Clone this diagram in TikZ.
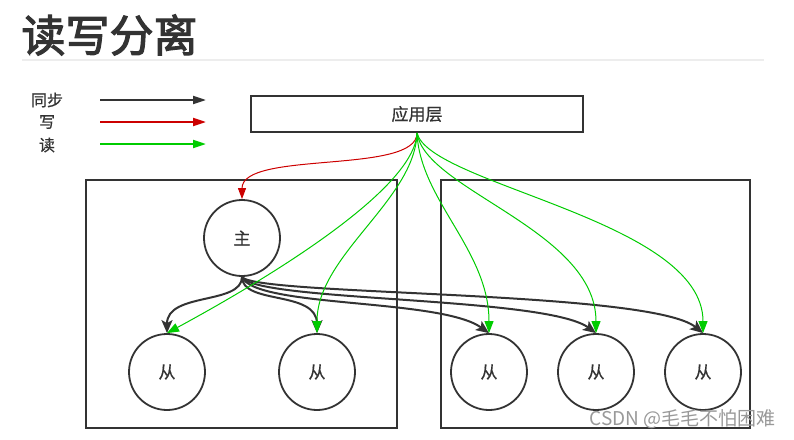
\documentclass[tikz,border=0pt]{standalone}
\usepackage{fontspec}
\setmainfont{Liberation Sans}
\newfontfamily\cjk[FakeBold=0.6]{Noto Sans CJK SC}
\newfontfamily\cjklight{Noto Sans CJK SC}
\newfontfamily\cjkbold[FakeBold=2.5]{Noto Sans CJK SC}
\usetikzlibrary{positioning,arrows.meta}
\definecolor{ink}{HTML}{333333}
\definecolor{wred}{HTML}{CC0000}
\definecolor{rgreen}{HTML}{00CC00}
\tikzstyle{tips}=[%
	 btip/.tip = {Stealth[length=13pt, width=11pt, inset=3pt]},
	 gtip/.tip = {Triangle[length=12pt, width=9pt]},
	 rtip/.tip = {Triangle[length=11pt, width=8pt]}]

\begin{document}
\begin{tikzpicture}[tips, x=1pt, y=-1pt]
			\useasboundingbox (0,0) rectangle (794,439);
			\def\myr{76pt}
			\tikzstyle{noeud}=[draw=ink, line width=1.8pt, circle, minimum size=\myr, inner sep=0pt, font=\cjk\fontsize{17}{17}\selectfont, text=ink]
			\tikzstyle{groupe}=[draw=ink, line width=2pt, inner sep=0pt]
			\tikzstyle{sync}=[draw=ink, line width=2pt, -btip]
			\tikzstyle{ecrit}=[draw=wred, line width=1pt, -rtip]
			\tikzstyle{lect}=[draw=rgreen, line width=1pt, -gtip]
			\tikzstyle{legende}=[font=\cjk\fontsize{16}{16}\selectfont, text=ink]
			% titre
			\node[anchor=west, font=\cjkbold\fontsize{44}{44}\selectfont, text=ink] (titre) at (18,35) {读写分离};
			\draw[draw=black!7, line width=2pt] (22,60) -- (764,60);
			% legende
			\node[legende] (lsync) at (47,100) {同步};
			\node[legende] (lecrit) at (47,122) {写};
			\node[legende] (llect) at (47,145) {读};
			\coordinate (sa) at (100,100); \coordinate (sb) at (206,100);
			\coordinate (ea) at (100,122); \coordinate (eb) at (206,122);
			\coordinate (la) at (100,144); \coordinate (lb) at (206,144);
			\draw[draw=ink, line width=2pt, -{Triangle[length=13pt, width=8pt]}] (sa) -- (sb);
			\draw[draw=wred, line width=2pt, -{Triangle[length=13pt, width=8pt]}] (ea) -- (eb);
			\draw[draw=rgreen, line width=2pt, -{Triangle[length=13pt, width=8pt]}] (la) -- (lb);
			% noeuds
			\node[draw=ink, line width=2pt, minimum width=332pt, minimum height=36pt, font=\cjk\fontsize{17}{17}\selectfont, text=ink] (app) at (417,114) {应用层};
			\node[groupe, minimum width=311pt, minimum height=248pt] (gauche) at (241.5,304) {};
			\node[groupe, minimum width=309pt, minimum height=248pt] (droite) at (595.5,304) {};
			\node[noeud] (maitre) at (242,238) {主};
			\node[noeud] (s1) at (167,372) {从};
			\node[noeud] (s2) at (317,372) {从};
			\node[noeud] (s3) at (489,372) {从};
			\node[noeud] (s4) at (596,372) {从};
			\node[noeud] (s5) at (703,372) {从};
			% synchronisation
			\draw[sync] (maitre.south) .. controls (242,305) and (167,292) .. (s1.north);
			\draw[sync] (maitre.south) .. controls (242,305) and (317,290) .. (s2.north);
			\draw[sync] (maitre.south) .. controls (255,308) and (440,298) .. (s3.north);
			\draw[sync] (maitre.south) .. controls (255,302) and (545,296) .. (s4.north);
			\draw[sync] (maitre.south) .. controls (255,296) and (650,290) .. (s5.north);
			% ecriture
			\draw[ecrit] (app.south) .. controls (417,175) and (242,150) .. (maitre.north);
			% lecture
			\draw[lect] (app.south) .. controls (415,190) and (265,280) .. (s1.north);
			\draw[lect] (app.south) .. controls (415,200) and (317,255) .. (s2.north);
			\draw[lect] (app.south) .. controls (420,200) and (489,250) .. (s3.north);
			\draw[lect] (app.south) .. controls (425,190) and (596,230) .. (s4.north);
			\draw[lect] (app.south) .. controls (430,185) and (703,220) .. (s5.north);
			% filigrane
			\node[anchor=east, font=\cjklight\fontsize{19}{19}\selectfont, text=black!40] (csdn) at (779,419) {CSDN @毛毛不怕困难};
		\end{tikzpicture}
\end{document}
